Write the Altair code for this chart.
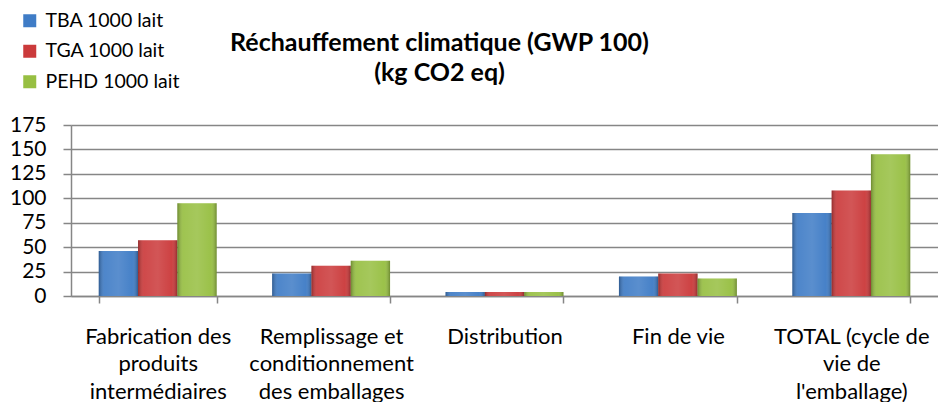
import altair as alt
import pandas as pd

categories = [
    "Fabrication des|produits|intermédiaires",
    "Remplissage et|conditionnement|des emballages",
    "Distribution",
    "Fin de vie",
    "TOTAL (cycle de|vie de|l'emballage)",
]
series = ["TBA 1000 lait", "TGA 1000 lait", "PEHD 1000 lait"]
tba = [46, 23, 4, 20, 85]
tga = [57, 31, 4, 23, 108]
pehd = [95, 36, 4, 18, 145]
colors = ["#3f7cc6", "#cb3a3b", "#97bf42"]
y_ticks = [0, 25, 50, 75, 100, 125, 150, 175]
title_lines = ["Réchauffement climatique (GWP 100)", "(kg CO2 eq)"]

rows = []
for s, vals in zip(series, [tba, tga, pehd]):
    for c, v in zip(categories, vals):
        rows.append({"cat": c, "series": s, "value": v})
df = pd.DataFrame(rows)

GRID = "#868686"

x_enc = alt.X(
    "cat:N", sort=categories, title=None,
    scale=alt.Scale(paddingInner=0.32, paddingOuter=0.16),
    axis=alt.Axis(
        labelAngle=0, labelExpr="split(datum.label, '|')",
        labelFont="Lato", labelFontSize=22, labelColor="black",
        labelLineHeight=27.5, labelPadding=23, labelBaseline="top",
        tickBand="extent", tickSize=7, tickColor=GRID, tickWidth=1.5,
        domainColor=GRID, domainWidth=1.5, grid=False,
    ),
)
xo_enc = alt.XOffset("series:N", sort=series, scale=alt.Scale(paddingInner=0, paddingOuter=0))
y_enc = alt.Y(
    "value:Q", scale=alt.Scale(domain=[0, 175], nice=False), title=None,
    axis=alt.Axis(
        values=y_ticks, grid=True, gridColor=GRID, gridWidth=1.5,
        labelFont="Lato", labelFontSize=21, labelColor="black", labelPadding=17,
        tickSize=8, tickColor=GRID, tickWidth=1.5,
        domainColor=GRID, domainWidth=1.5,
    ),
)

base = alt.Chart(df)

bars = base.mark_bar().encode(
    x=x_enc, xOffset=xo_enc, y=y_enc,
    color=alt.Color(
        "series:N", sort=series,
        scale=alt.Scale(domain=series, range=colors),
        legend=alt.Legend(
            title=None, orient="none", legendX=-51, legendY=-114,
            direction="vertical", symbolType="square", symbolSize=169,
            symbolStrokeWidth=0, labelFont="Lato", labelFontSize=19.5,
            labelColor="black", labelOffset=6, rowPadding=9.5,
        ),
    ),
)

shade = base.mark_bar(
    fill=alt.Gradient(
        gradient="linear", x1=0, x2=1, y1=0, y2=0,
        stops=[
            alt.GradientStop(offset=0, color="rgba(0,0,0,0.28)"),
            alt.GradientStop(offset=0.15, color="rgba(255,255,255,0.08)"),
            alt.GradientStop(offset=0.5, color="rgba(255,255,255,0.14)"),
            alt.GradientStop(offset=0.85, color="rgba(255,255,255,0.04)"),
            alt.GradientStop(offset=1, color="rgba(0,0,0,0.28)"),
        ],
    )
).encode(x=x_enc, xOffset=xo_enc, y=y_enc)

chart = alt.layer(bars, shade).properties(
    width=867, height=171,
    title=alt.TitleParams(
        text=title_lines, font="Lato", fontSize=25, fontWeight="bold",
        color="black", anchor="middle", dx=-65, lineHeight=30, offset=0, dy=75,
    ),
    padding={"left": 63, "top": 117, "right": 0, "bottom": 106},
    autosize="none",
).configure_view(stroke=None).configure(background="white")

chart.save("out.html", embed_options={"renderer": "svg", "actions": False})
